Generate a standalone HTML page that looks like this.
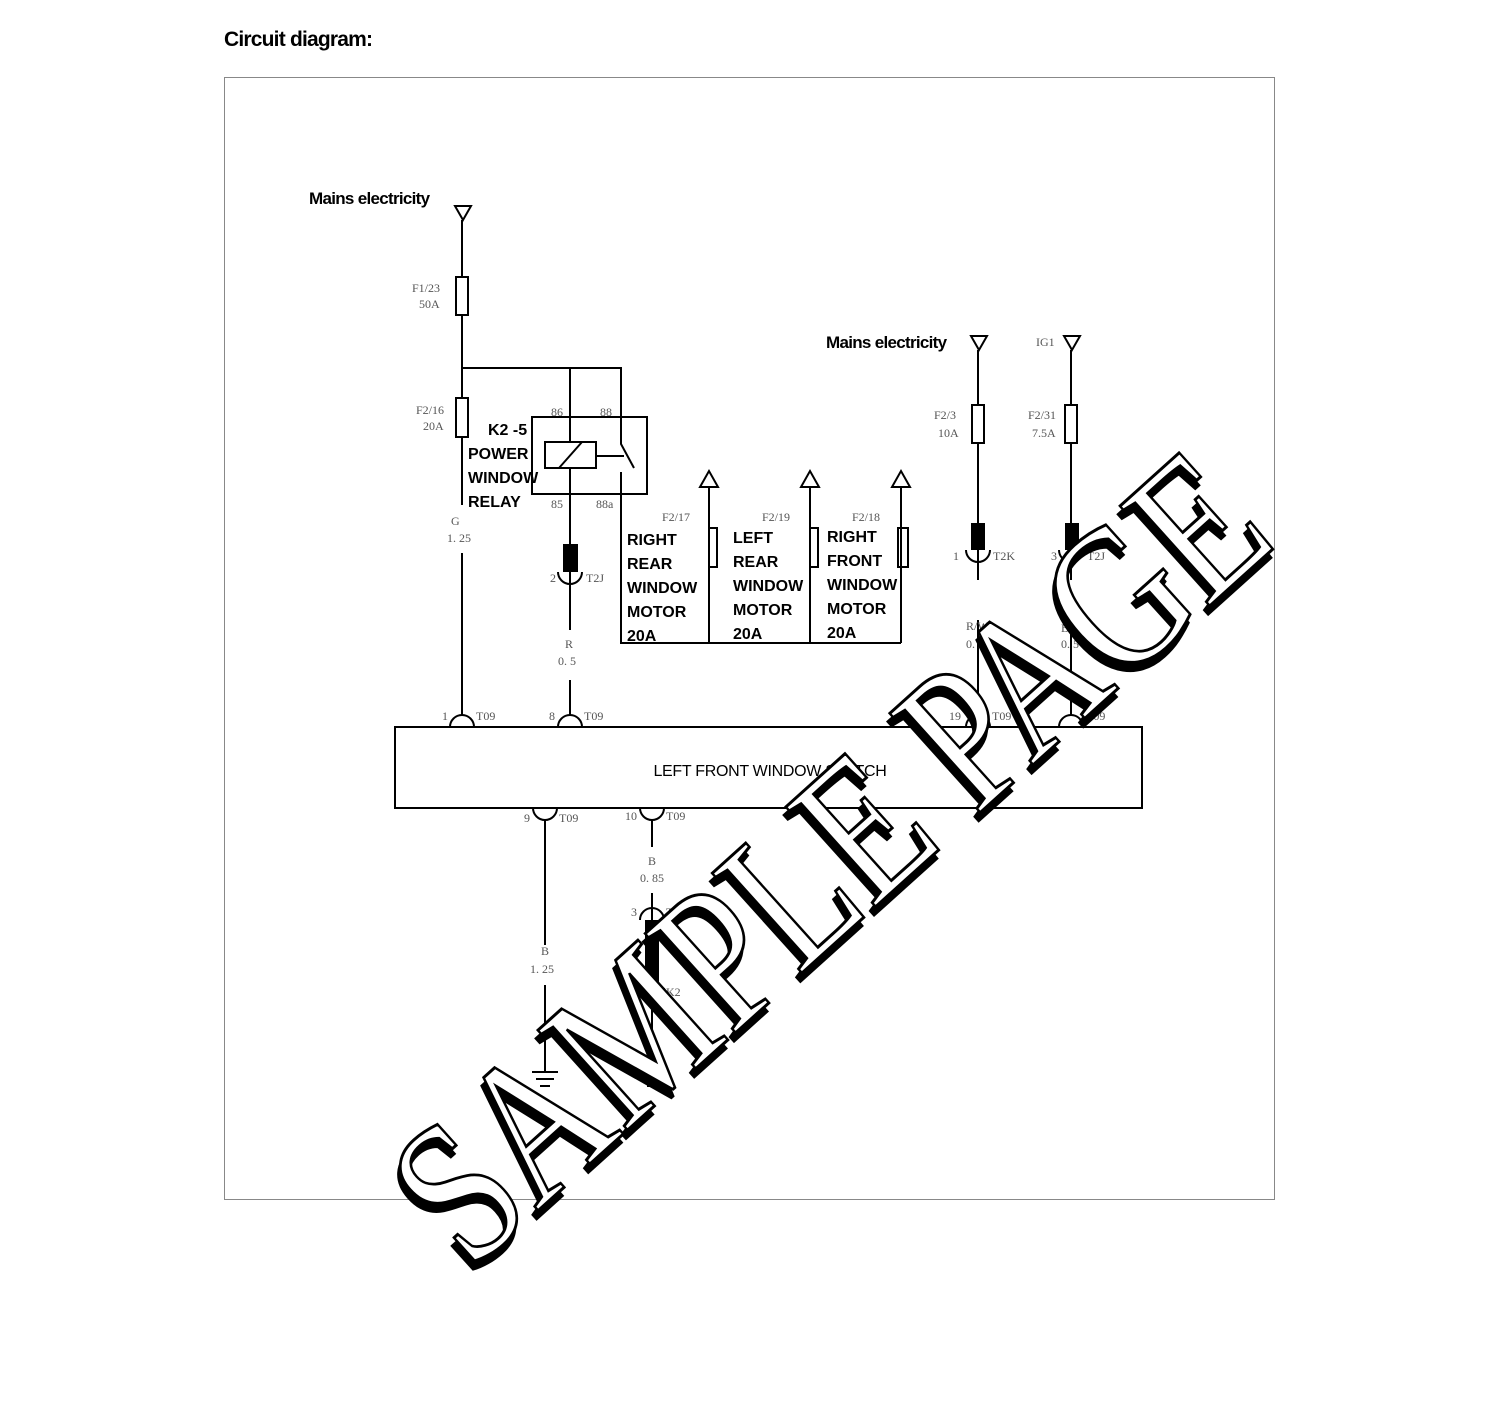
<!DOCTYPE html>
<html><head><meta charset="utf-8"><style>
html,body{margin:0;padding:0;background:#fff;}
svg{display:block;}
.s{font-family:"Liberation Serif",serif;font-size:12px;fill:#555;}
.b{font-family:"Liberation Sans",sans-serif;font-size:16px;font-weight:bold;fill:#000;}
.m{font-family:"Liberation Sans",sans-serif;font-size:17px;font-weight:bold;fill:#000;letter-spacing:-0.7px;}
</style></head><body>
<svg width="1500" height="1401" viewBox="0 0 1500 1401" xmlns="http://www.w3.org/2000/svg">
<text x="224" y="46" font-family="Liberation Sans,sans-serif" font-size="21" font-weight="bold" letter-spacing="-0.8">Circuit diagram:</text>
<rect x="224.5" y="77.5" width="1050" height="1122" fill="none" stroke="#888" stroke-width="1"/>
<g stroke="#000" stroke-width="2" fill="none">
<path d="M455 206 L471 206 L463 220 Z"/>
<line x1="462" y1="220" x2="462" y2="505"/>
<line x1="462" y1="553" x2="462" y2="715"/>
<rect x="456" y="277" width="12" height="38" fill="#fff"/>
<rect x="456" y="398" width="12" height="39" fill="#fff"/>
<polyline points="462,368 621,368 621,444 634,468"/>
<line x1="570" y1="368" x2="570" y2="442"/>
<rect x="532" y="417" width="115" height="77"/>
<rect x="545" y="442" width="51" height="26"/>
<line x1="559" y1="468" x2="582" y2="442"/>
<line x1="596" y1="456" x2="624" y2="456"/>
<line x1="570" y1="468" x2="570" y2="630"/>
<line x1="570" y1="680" x2="570" y2="715"/>
<path d="M558 572 A12 12 0 0 0 582 572"/>
<polyline points="621,472 621,643 901,643"/>
<line x1="709" y1="487" x2="709" y2="643"/>
<line x1="810" y1="487" x2="810" y2="643"/>
<line x1="901" y1="487" x2="901" y2="643"/>
<path d="M700 487 L718 487 L709 471 Z"/>
<path d="M801 487 L819 487 L810 471 Z"/>
<path d="M892 487 L910 487 L901 471 Z"/>
<rect x="709" y="528" width="8" height="39"/>
<rect x="810" y="528" width="8" height="39"/>
<rect x="898" y="528" width="10" height="39"/>
<path d="M971 336 L987 336 L979 350 Z"/>
<line x1="978" y1="350" x2="978" y2="580"/>
<line x1="978" y1="620" x2="978" y2="715"/>
<rect x="972" y="405" width="12" height="38" fill="#fff"/>
<path d="M966 550 A12 12 0 0 0 990 550"/>
<path d="M1064 336 L1080 336 L1072 350 Z"/>
<line x1="1071" y1="350" x2="1071" y2="580"/>
<line x1="1071" y1="620" x2="1071" y2="715"/>
<rect x="1065" y="405" width="12" height="38" fill="#fff"/>
<path d="M1059 550 A12 12 0 0 0 1083 550"/>
<rect x="395" y="727" width="747" height="81"/>
<path d="M450 727 A12 12 0 0 1 474 727"/>
<path d="M558 727 A12 12 0 0 1 582 727"/>
<path d="M966 727 A12 12 0 0 1 990 727"/>
<path d="M1059 727 A12 12 0 0 1 1083 727"/>
<path d="M533 808 A12 12 0 0 0 557 808"/>
<path d="M640 808 A12 12 0 0 0 664 808"/>
<line x1="545" y1="820" x2="545" y2="945"/>
<line x1="545" y1="985" x2="545" y2="1072"/>
<line x1="532" y1="1072" x2="558" y2="1072"/>
<line x1="536" y1="1079" x2="554" y2="1079"/>
<line x1="540" y1="1086" x2="550" y2="1086"/>
<line x1="652" y1="820" x2="652" y2="847"/>
<line x1="652" y1="893" x2="652" y2="920"/>
<path d="M640 920 A12 12 0 0 1 664 920"/>
<path d="M640 988 A12 12 0 0 0 664 988"/>
<line x1="652" y1="1000" x2="652" y2="1072"/>
<line x1="639" y1="1072" x2="665" y2="1072"/>
<line x1="643" y1="1079" x2="661" y2="1079"/>
<line x1="647" y1="1086" x2="657" y2="1086"/>
</g>
<g fill="#000">
<rect x="563" y="544" width="15" height="28"/>
<rect x="971" y="523" width="14" height="27"/>
<rect x="1065" y="523" width="14" height="27"/>
<rect x="645" y="920" width="14" height="68"/>
</g>
<text class="m" x="309" y="204">Mains electricity</text>
<text class="m" x="826" y="348">Mains electricity</text>
<text class="s" x="1036" y="346">IG1</text>
<g class="s">
<text x="412" y="292">F1/23</text><text x="419" y="308">50A</text>
<text x="416" y="414">F2/16</text><text x="423" y="430">20A</text>
<text x="551" y="416">86</text><text x="600" y="416">88</text>
<text x="551" y="508">85</text><text x="596" y="508">88a</text>
<text x="451" y="525">G</text><text x="447" y="542">1. 25</text>
<text x="550" y="582">2</text><text x="586" y="582">T2J</text>
<text x="565" y="648">R</text><text x="558" y="665">0. 5</text>
<text x="662" y="521">F2/17</text><text x="762" y="521">F2/19</text><text x="852" y="521">F2/18</text>
<text x="934" y="419">F2/3</text><text x="938" y="437">10A</text>
<text x="1028" y="419">F2/31</text><text x="1032" y="437">7.5A</text>
<text x="953" y="560">1</text><text x="993" y="560">T2K</text>
<text x="1051" y="560">3</text><text x="1087" y="560">T2J</text>
<text x="966" y="630">R/W</text><text x="966" y="648">0. 5</text>
<text x="1061" y="632">B/R</text><text x="1061" y="648">0. 5</text>
<text x="442" y="720">1</text><text x="476" y="720">T09</text>
<text x="549" y="720">8</text><text x="584" y="720">T09</text>
<text x="949" y="720">19</text><text x="992" y="720">T09</text>
<text x="1086" y="720">T09</text>
<text x="524" y="822">9</text><text x="559" y="822">T09</text>
<text x="625" y="820">10</text><text x="666" y="820">T09</text>
<text x="648" y="865">B</text><text x="640" y="882">0. 85</text>
<text x="631" y="916">3</text><text x="666" y="916">T2K</text>
<text x="625" y="996">12</text><text x="666" y="996">K2</text>
<text x="541" y="955">B</text><text x="530" y="973">1. 25</text>
</g>
<g class="b">
<text x="488" y="435">K2 -5</text>
<text x="468" y="459">POWER</text><text x="468" y="483">WINDOW</text><text x="468" y="507">RELAY</text>
<text x="627" y="545">RIGHT</text><text x="627" y="569">REAR</text><text x="627" y="593">WINDOW</text><text x="627" y="617">MOTOR</text><text x="627" y="641">20A</text>
<text x="733" y="543">LEFT</text><text x="733" y="567">REAR</text><text x="733" y="591">WINDOW</text><text x="733" y="615">MOTOR</text><text x="733" y="639">20A</text>
<text x="827" y="542">RIGHT</text><text x="827" y="566">FRONT</text><text x="827" y="590">WINDOW</text><text x="827" y="614">MOTOR</text><text x="827" y="638">20A</text>
</g>
<text x="770" y="776" text-anchor="middle" font-family="Liberation Sans,sans-serif" font-size="16" letter-spacing="-0.3">LEFT FRONT WINDOW SWITCH</text>
<g transform="translate(470,1272) rotate(-42)" font-family="Liberation Serif,serif" font-size="205">
<text x="-7" y="5" textLength="1090" lengthAdjust="spacingAndGlyphs" fill="#000" stroke="#000" stroke-width="3">SAMPLE PAGE</text>
<text x="0" y="0" textLength="1090" lengthAdjust="spacingAndGlyphs" fill="#fff" stroke="#000" stroke-width="3">SAMPLE PAGE</text>
</g>
</svg>
</body></html>
